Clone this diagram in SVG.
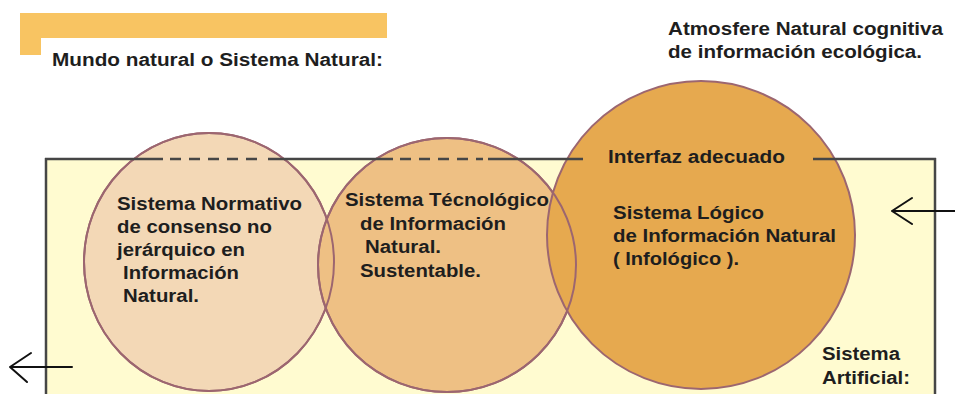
<svg xmlns="http://www.w3.org/2000/svg" width="955" height="394" viewBox="0 0 955 394">
<style>
  .t { font-family: "Liberation Sans", Arial, sans-serif; font-weight: bold; font-size: 18px; fill: #1e1e1e; }
  .circ { stroke: #9c6670; stroke-width: 2; }
  .edge { fill: none; stroke: #9c6670; stroke-width: 2; }
  .frame { stroke: #464646; stroke-width: 2.5; fill: none; }
  .arrow { stroke: #111; stroke-width: 2; fill: none; stroke-linecap: round; stroke-linejoin: round; }
</style>
<rect x="0" y="0" width="955" height="394" fill="#ffffff"/>

<g id="title-bar">
  <path d="M20 13 H387 V38 H41 V55 H20 Z" fill="#f8c462"/>
  <text class="t" x="52" y="66" textLength="331" lengthAdjust="spacingAndGlyphs">Mundo natural o Sistema Natural:</text>
</g>

<g id="atmosfera">
  <text class="t" x="668" y="35" textLength="275" lengthAdjust="spacingAndGlyphs">Atmosfere Natural cognitiva</text>
  <text class="t" x="668" y="58" textLength="254" lengthAdjust="spacingAndGlyphs">de información ecológica.</text>
</g>

<g id="sistema-artificial">
  <rect x="46" y="159" width="889" height="250" fill="#fffbd0"/>
  <line class="frame" x1="46" y1="158" x2="46" y2="394"/>
  <line class="frame" x1="935" y1="158" x2="935" y2="394"/>
  <text class="t" x="822" y="360" textLength="78" lengthAdjust="spacingAndGlyphs">Sistema</text>
  <text class="t" x="822" y="384" textLength="88" lengthAdjust="spacingAndGlyphs">Artificial:</text>
</g>

<g id="sistema-normativo">
  <ellipse class="circ" cx="209" cy="262" rx="125" ry="129" fill="#f3d8b6"/>
  <text class="t" x="117" y="210" textLength="185" lengthAdjust="spacingAndGlyphs">Sistema Normativo</text>
  <text class="t" x="117" y="233" textLength="155" lengthAdjust="spacingAndGlyphs">de consenso no</text>
  <text class="t" x="117" y="256" textLength="128" lengthAdjust="spacingAndGlyphs">jerárquico en</text>
  <text class="t" x="123" y="279" textLength="116" lengthAdjust="spacingAndGlyphs">Información</text>
  <text class="t" x="123" y="302" textLength="76" lengthAdjust="spacingAndGlyphs">Natural.</text>
</g>

<g id="sistema-tecnologico">
  <ellipse class="circ" cx="447" cy="265" rx="129" ry="127" fill="#eec084"/>
  <text class="t" x="345" y="206" textLength="204" lengthAdjust="spacingAndGlyphs">Sistema Técnológico</text>
  <text class="t" x="360" y="230" textLength="146" lengthAdjust="spacingAndGlyphs">de Información</text>
  <text class="t" x="365" y="253" textLength="76" lengthAdjust="spacingAndGlyphs">Natural.</text>
  <text class="t" x="360" y="277" textLength="121" lengthAdjust="spacingAndGlyphs">Sustentable.</text>
</g>

<g id="sistema-logico">
  <circle class="circ" cx="701" cy="235" r="154" fill="#e6a94f"/>
  <text class="t" x="613" y="219" textLength="151" lengthAdjust="spacingAndGlyphs">Sistema Lógico</text>
  <text class="t" x="613" y="242" textLength="223" lengthAdjust="spacingAndGlyphs">de Información Natural</text>
  <text class="t" x="613" y="265" textLength="126" lengthAdjust="spacingAndGlyphs">( Infológico ).</text>
</g>

<g id="overlap-edges">
  <ellipse class="edge" cx="209" cy="262" rx="125" ry="129"/>
  <ellipse class="edge" cx="447" cy="265" rx="129" ry="127"/>
</g>

<g id="interfaz">
  <path class="frame" d="M45 159 H163 M268 159 H393 M488 159 H583 M813 159 H936"/>
  <path class="frame" d="M170 159 H263 M400 159 H483" stroke-dasharray="11 8"/>
  <text class="t" x="608" y="163" textLength="177" lengthAdjust="spacingAndGlyphs">Interfaz adecuado</text>
</g>

<g id="connectors">
  <path class="arrow" d="M955 211 H892 M912 198 L892 211 L912 224"/>
  <path class="arrow" d="M72 367 H10 M31 353 L10 367 L27 382"/>
</g>
</svg>
